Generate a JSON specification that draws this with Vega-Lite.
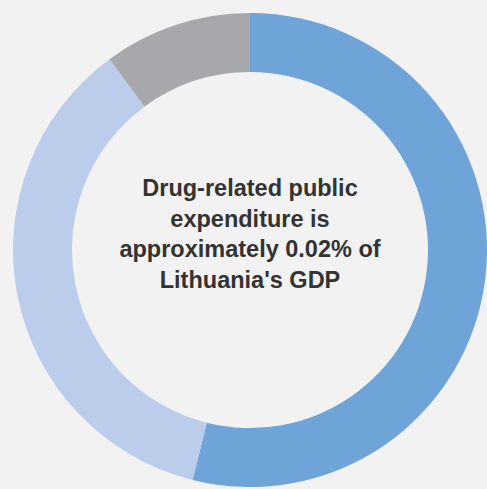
{
  "$schema": "https://vega.github.io/schema/vega-lite/v6.json",
  "width": 474,
  "height": 478,
  "autosize": "none",
  "padding": {"left": 13, "top": 11, "right": 0, "bottom": 0},
  "background": "#f2f2f2",
  "config": {"view": {"stroke": null}},
  "layer": [
    {
      "data": {"values": [
        {"category": "Public order and safety", "share": 53.9, "idx": 1},
        {"category": "Health", "share": 36.0, "idx": 2},
        {"category": "Other", "share": 10.1, "idx": 3}
      ]},
      "mark": {"type": "arc", "outerRadius": 237, "innerRadius": 178},
      "encoding": {
        "theta": {"field": "share", "type": "quantitative", "stack": true},
        "order": {"field": "idx", "type": "quantitative"},
        "color": {
          "field": "category", "type": "nominal", "legend": null,
          "scale": {"domain": ["Public order and safety", "Health", "Other"], "range": ["#6fa4d8", "#bccdeb", "#a7a8ab"]}
        }
      }
    },
    {
      "data": {"values": [{"label": ["Drug-related public", "expenditure is", "approximately 0.02% of", "Lithuania's GDP"]}]},
      "mark": {"type": "text", "font": "Liberation Sans", "fontWeight": "bold", "fontSize": 23.5, "lineHeight": 30.5, "color": "#333333", "align": "center", "baseline": "middle", "dy": -61},
      "encoding": {"text": {"field": "label"}}
    }
  ]
}
